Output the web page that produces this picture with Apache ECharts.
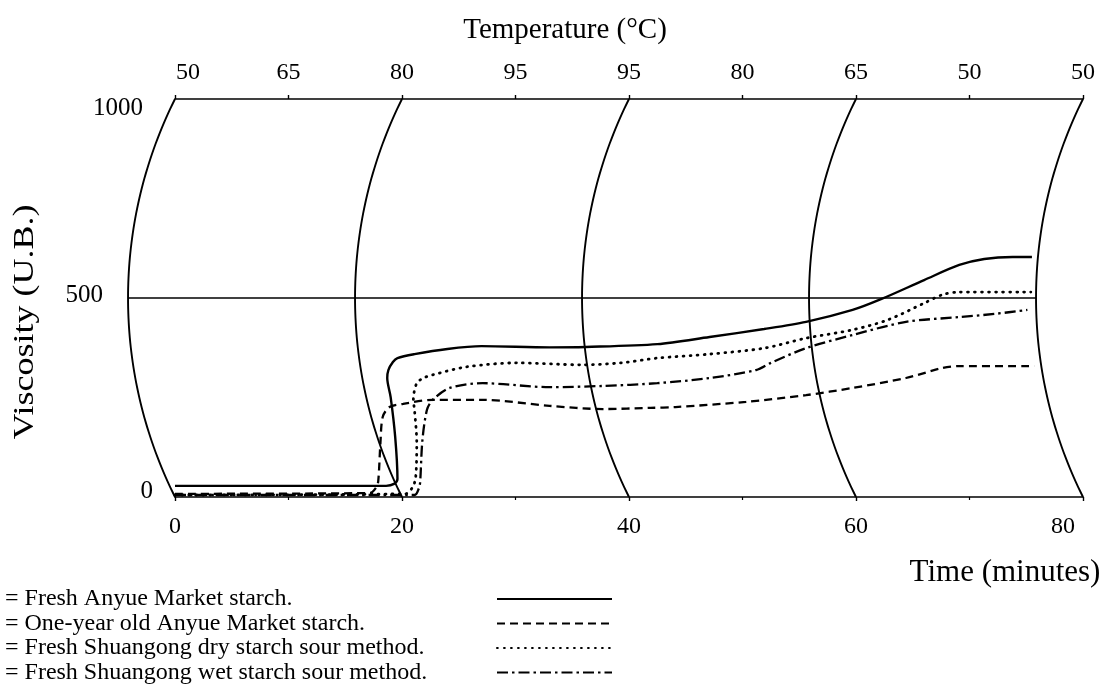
<!DOCTYPE html>
<html><head><meta charset="utf-8">
<script src="https://cdn.jsdelivr.net/npm/echarts@6/dist/echarts.min.js"></script>
<style>html,body{margin:0;padding:0;background:#fff}#c{width:1116px;height:684px}</style>
</head><body><div id="c"></div>
<script>
// ---- data ----
const tempLabels = ['50', '65', '80', '95', '95', '80', '65', '50', '50'];
const arcTimes = [0, 20, 40, 60, 80];
const refLevels = [500];
const seriesNames = [
  'Fresh Anyue Market starch.',
  'One-year old Anyue Market starch.',
  'Fresh Shuangong dry starch sour method.',
  'Fresh Shuangong wet starch sour method.'
];
const freshAnyue = [[0,28],[18.6,28],[19.3,33],[19.6,45],[19.4,151],[19.0,251],[18.7,299],[18.8,319],[19.2,339],[19.6,349],[21.1,359],[24.0,372],[27.0,379],[33.0,376],[36.2,377],[42.5,384],[47.1,402],[51.9,422],[55.6,440],[59.7,470],[62.2,497],[66.0,545],[69.1,583],[71.3,598],[73.8,603],[75.5,603]];
const oneYearAnyue = [[0,8],[17.2,10],[17.7,23],[17.9,38],[18.1,136],[18.3,201],[18.9,226],[20.1,234],[22.7,244],[27.1,244],[33.0,229],[37.7,221],[41.9,224],[44.1,226],[50.3,239],[55.6,256],[59.7,274],[64.4,299],[67.6,324],[69.1,329],[75.7,329]];
const dryMethod = [[0,5],[20.3,8],[20.9,23],[21.2,48],[21.3,136],[21.1,219],[21.0,244],[21.3,286],[21.9,299],[22.7,307],[25.7,327],[30.1,337],[35.9,332],[39.3,337],[42.5,349],[47.1,359],[51.9,374],[55.6,399],[59.7,420],[62.8,445],[66.0,487],[67.6,508],[69.1,515],[75.4,515]];
const wetMethod = [[0,5],[21.1,5],[21.5,23],[21.6,38],[21.8,143],[22.2,219],[22.7,244],[24.2,274],[27.1,286],[33.0,276],[37.7,279],[42.5,286],[47.1,299],[51.2,319],[52.5,337],[55.6,374],[59.7,407],[64.4,440],[69.1,452],[72.2,460],[75.1,470]];

// ---- styling ----
const FONT = '"Liberation Serif","Times New Roman",serif';
const SAG = 0.118; // arc sagitta relative to chord
const INK = '#000';
const CLEAR = 'rgba(0,0,0,0)';

function arcPoint(api, t, v) {
  const top = api.coord([t, 1000]);
  const bot = api.coord([t, 0]);
  const p = api.coord([t, v]);
  const chord = bot[1] - top[1];
  const h = chord / 2;
  const s = chord * SAG;
  const R = (h * h + s * s) / (2 * s);
  const ym = (top[1] + bot[1]) / 2;
  const cx = top[0] - s + R;
  const dy = p[1] - ym;
  return [cx - Math.sqrt(R * R - dy * dy), p[1]];
}

const chart = echarts.init(document.getElementById('c'));
const lineBase = { type: 'line', showSymbol: false, symbol: 'none', smooth: 0.3, z: 3, animation: false };

chart.setOption({
  animation: false,
  backgroundColor: '#fff',
  grid: { left: 175, right: 33, top: 99, bottom: 187, outerBoundsMode: 'none' },
  xAxis: [
    {
      type: 'value', position: 'bottom', min: 0, max: 80, interval: 20,
      axisLine: { show: true, lineStyle: { color: INK, width: 1.7 } },
      axisTick: { show: true, length: 4, lineStyle: { color: INK, width: 1.4 } },
      minorTick: { show: true, splitNumber: 2, length: 3, lineStyle: { color: INK, width: 1.2 } },
      splitLine: { show: false },
      axisLabel: {
        margin: 18, color: INK, fontFamily: FONT, fontSize: 24,
        formatter: v => v === 80 ? '{r|80}' : String(v),
        rich: { r: { padding: [0, 40, 0, 0], fontFamily: FONT, fontSize: 24, color: INK } }
      }
    },
    {
      type: 'value', position: 'top', min: 0, max: 80, interval: 10,
      axisLine: { show: true, onZero: false, lineStyle: { color: INK, width: 1.7 } },
      axisTick: { show: true, length: 4, lineStyle: { color: INK, width: 1.4 } },
      splitLine: { show: false },
      axisLabel: {
        margin: 14, color: INK, fontFamily: FONT, fontSize: 24,
        formatter: v => v === 0 ? '{f|50}' : tempLabels[Math.round(v / 10)],
        rich: { f: { padding: [0, 0, 0, 26], fontFamily: FONT, fontSize: 24, color: INK } }
      }
    }
  ],
  yAxis: {
    type: 'value', min: 0, max: 1000, interval: 500,
    axisLine: { show: false }, axisTick: { show: false }, splitLine: { show: false },
    axisLabel: {
      margin: 22, color: INK, fontFamily: FONT, fontSize: 25,
      formatter: v => v === 1000 ? '{t|1000}' : (v === 500 ? '{m|500}' : '{b|0}'),
      rich: {
        t: { padding: [18, 10, 0, 0], fontFamily: FONT, fontSize: 25, color: INK },
        m: { padding: [0, 50, 6, 0], fontFamily: FONT, fontSize: 25, color: INK },
        b: { padding: [0, 0, 12, 0], fontFamily: FONT, fontSize: 25, color: INK }
      }
    }
  },
  legend: {
    data: seriesNames, orient: 'vertical', left: 5, top: 587, height: 130, padding: 0, itemGap: 0.5,
    itemWidth: 115, itemHeight: 2, align: 'right', selectedMode: false,
    itemStyle: { color: CLEAR, borderColor: CLEAR, borderWidth: 0 },
    formatter: n => '{a|= ' + n + '}',
    textStyle: {
      color: INK, fontFamily: FONT, fontSize: 24,
      rich: { a: { width: 487, lineHeight: 24, align: 'left', fontFamily: FONT, fontSize: 24, color: INK } }
    }
  },
  graphic: [
    { type: 'text', x: 565, y: 30, silent: true,
      style: { text: 'Temperature (°C)', fontFamily: FONT, fontSize: 29, fill: INK, align: 'center', verticalAlign: 'middle' } },
    { type: 'text', x: 1005, y: 573, silent: true,
      style: { text: 'Time (minutes)', fontFamily: FONT, fontSize: 31, fill: INK, align: 'center', verticalAlign: 'middle' } },
    { type: 'text', x: 25, y: 322, rotation: Math.PI / 2, scaleX: 1.2, silent: true,
      style: { text: 'Viscosity (U.B.)', fontFamily: FONT, fontSize: 30, fill: INK, align: 'center', verticalAlign: 'middle' } }
  ],
  series: [
    {
      type: 'custom', name: 'arcs', coordinateSystem: 'cartesian2d', silent: true, clip: false, z: 1,
      data: arcTimes.map(t => [t, 0]),
      renderItem: (params, api) => {
        const t = api.value(0);
        const pts = [];
        for (let i = 0; i <= 80; i++) pts.push(arcPoint(api, t, 1000 * i / 80));
        return { type: 'polyline', shape: { points: pts }, style: { stroke: INK, lineWidth: 1.9, fill: null } };
      }
    },
    {
      type: 'custom', name: 'levels', coordinateSystem: 'cartesian2d', silent: true, clip: false, z: 1,
      data: refLevels.map(v => [0, v]),
      renderItem: (params, api) => {
        const v = api.value(1);
        const a = arcPoint(api, arcTimes[0], v);
        const b = arcPoint(api, arcTimes[arcTimes.length - 1], v);
        return { type: 'line', shape: { x1: a[0], y1: a[1], x2: b[0], y2: b[1] }, style: { stroke: INK, lineWidth: 1.7 } };
      }
    },
    Object.assign({}, lineBase, { name: seriesNames[0], data: freshAnyue,
      lineStyle: { color: INK, width: 2.4, type: 'solid' }, itemStyle: { color: INK } }),
    Object.assign({}, lineBase, { name: seriesNames[1], data: oneYearAnyue,
      lineStyle: { color: INK, width: 2.3, type: [8, 5] }, itemStyle: { color: INK } }),
    Object.assign({}, lineBase, { name: seriesNames[2], data: dryMethod,
      lineStyle: { color: INK, width: 2.8, type: [0.8, 6.2], cap: 'round' }, itemStyle: { color: INK } }),
    Object.assign({}, lineBase, { name: seriesNames[3], data: wetMethod,
      lineStyle: { color: INK, width: 2.3, type: [11, 4, 2.5, 4] }, itemStyle: { color: INK } })
  ]
});
</script>
</body></html>
